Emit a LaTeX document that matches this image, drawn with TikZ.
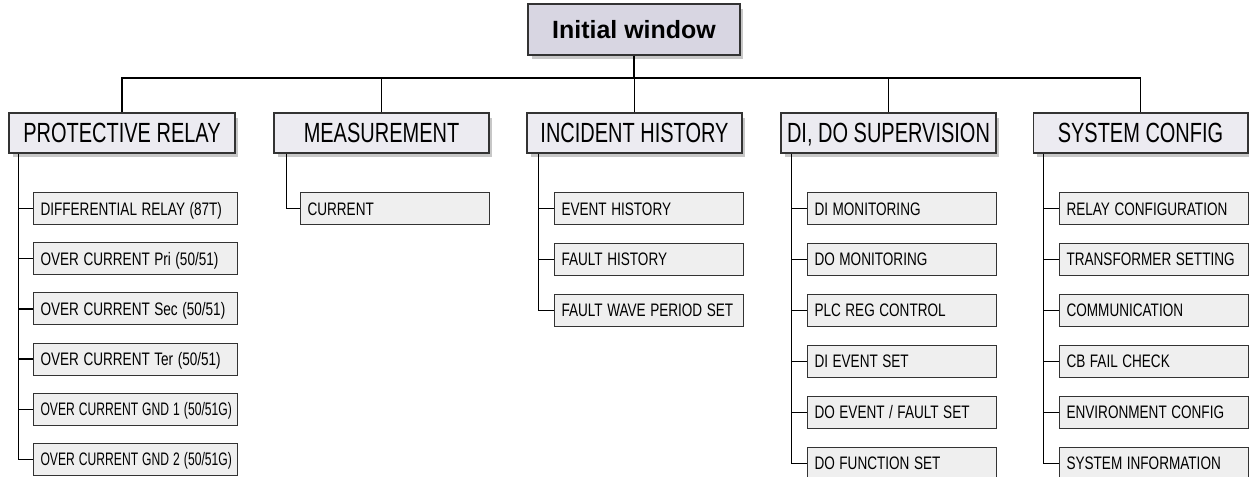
\documentclass[tikz,border=0pt]{standalone}
\usepackage{fontspec}
\setmainfont{Liberation Sans}
\usepackage{tikz}
\usetikzlibrary{shadows}
\usetikzlibrary{positioning}
\usetikzlibrary{calc}
\definecolor{titlefill}{HTML}{D8D6E2}
\definecolor{menufill}{HTML}{ECEBF1}
\definecolor{itemfill}{HTML}{EFEFEF}
\definecolor{boxedge}{HTML}{333333}
% condensed labels
\newcommand{\menutext}[1]{\scalebox{0.72}[1]{#1}}
\newcommand{\itemtext}[1]{\scalebox{0.75}[1]{#1}}
\newcommand{\itemtight}[1]{\scalebox{0.67}[1]{#1}}
\tikzset{
  % Common styles for the menu tree
  line/.style={draw, line width=0.85pt},
  boxshadow/.style={drop shadow={shadow xshift=0.07cm, shadow yshift=-0.09cm, fill=black!22, opacity=1}}
}

\begin{document}
\begin{tikzpicture}[x=0.02cm, y=-0.02cm, node distance=1.02cm]
    % Define styles
    \tikzstyle{top} = [rectangle, draw=boxedge, line width=0.6pt, fill=titlefill, boxshadow, minimum width=4.24cm, minimum height=1.02cm, text height=10.2pt, text depth=0pt, font=\bfseries\fontsize{14.2}{17}\selectfont]
    \tikzstyle{menu} = [rectangle, draw=boxedge, line width=0.6pt, fill=menufill, boxshadow, minimum width=4.3cm, minimum height=0.8cm, inner xsep=0pt, text height=11.3pt, text depth=0pt, font=\fontsize{15.8}{18}\selectfont]
    \tikzset{item/.style={rectangle, draw=boxedge, line width=0.6pt, fill=itemfill, minimum height=0.64cm, text width=#1, align=left, inner xsep=0.14cm, inner ysep=0pt, text height=7.4pt, text depth=0pt, font=\fontsize{10.3}{12}\selectfont}, item/.default=3.5cm}

    \useasboundingbox (0,0) rectangle (1249,477);

    % Top of the tree
    \node [top] (title) at (634,29.5) {Initial window};
    \coordinate (bus) at (634,78);

    % Main menus
    \node [menu, minimum width=4.52cm] (relay) at (122,133) {\menutext{PROTECTIVE RELAY}};
    \node [menu] (meas) at (381.5,133) {\menutext{MEASUREMENT}};
    \node [menu] (hist) at (634.5,133) {\menutext{INCIDENT HISTORY}};
    \node [menu] (dido) at (888.5,133) {\menutext{DI, DO SUPERVISION}};
    \node [menu] (sys) at (1140.5,133) {\menutext{SYSTEM CONFIG}};

    % Protective relay items
    \node [item=3.8cm, anchor=west] (relay1) at (33,208.5) {\itemtext{DIFFERENTIAL RELAY (87T)}};
    \node [item=3.8cm, below of=relay1, node distance=1.004cm] (relay2) {\itemtext{OVER CURRENT Pri (50/51)}};
    \node [item=3.8cm, below of=relay2, node distance=1.004cm] (relay3) {\itemtext{OVER CURRENT Sec (50/51)}};
    \node [item=3.8cm, below of=relay3, node distance=1.004cm] (relay4) {\itemtext{OVER CURRENT Ter (50/51)}};
    \node [item=3.8cm, below of=relay4, node distance=1.004cm] (relay5) {\itemtight{OVER CURRENT GND 1 (50/51G)}};
    \node [item=3.8cm, below of=relay5, node distance=1.004cm] (relay6) {\itemtight{OVER CURRENT GND 2 (50/51G)}};

    % Measurement items
    \node [item, anchor=west] (meas1) at (300,208.5) {\itemtext{CURRENT}};

    % Incident history items
    \node [item, anchor=west] (hist1) at (554,208.5) {\itemtext{EVENT HISTORY}};
    \node [item, below of=hist1] (hist2) {\itemtext{FAULT HISTORY}};
    \node [item, below of=hist2] (hist3) {\itemtext{FAULT WAVE PERIOD SET}};

    % DI, DO supervision items
    \node [item, anchor=west] (dido1) at (807,208.5) {\itemtext{DI MONITORING}};
    \node [item, below of=dido1] (dido2) {\itemtext{DO MONITORING}};
    \node [item, below of=dido2] (dido3) {\itemtext{PLC REG CONTROL}};
    \node [item, below of=dido3] (dido4) {\itemtext{DI EVENT SET}};
    \node [item, below of=dido4] (dido5) {\itemtext{DO EVENT / FAULT SET}};
    \node [item, below of=dido5] (dido6) {\itemtext{DO FUNCTION SET}};

    % System config items
    \node [item, anchor=west] (sys1) at (1059,208.5) {\itemtext{RELAY CONFIGURATION}};
    \node [item, below of=sys1] (sys2) {\itemtext{TRANSFORMER SETTING}};
    \node [item, below of=sys2] (sys3) {\itemtext{COMMUNICATION}};
    \node [item, below of=sys3] (sys4) {\itemtext{CB FAIL CHECK}};
    \node [item, below of=sys4] (sys5) {\itemtext{ENVIRONMENT CONFIG}};
    \node [item, below of=sys5] (sys6) {\itemtext{SYSTEM INFORMATION}};

    % Draw edges
    \path [line] (title) -- (bus);
    \path [line] (relay.north) |- (bus) -| (sys.north);
    \path [line] (meas.north) -- (meas.north |- bus);
    \path [line] (hist.north) -- (hist.north |- bus);
    \path [line] (dido.north) -- (dido.north |- bus);

    \coordinate (relay-trunk) at ($(relay.south west)+(10,0)$);
    \coordinate (meas-trunk) at ($(meas.south west)+(13,0)$);
    \coordinate (hist-trunk) at ($(hist.south west)+(12,0)$);
    \coordinate (dido-trunk) at ($(dido.south west)+(11,0)$);
    \coordinate (sys-trunk) at ($(sys.south west)+(11,0)$);

    \path [line] (relay-trunk) |- (relay6.west);
    \path [line] (relay1.west) -- (relay1.west -| relay-trunk);
    \path [line] (relay2.west) -- (relay2.west -| relay-trunk);
    \path [line] (relay3.west) -- (relay3.west -| relay-trunk);
    \path [line] (relay4.west) -- (relay4.west -| relay-trunk);
    \path [line] (relay5.west) -- (relay5.west -| relay-trunk);

    \path [line] (meas-trunk) |- (meas1.west);

    \path [line] (hist-trunk) |- (hist3.west);
    \path [line] (hist1.west) -- (hist1.west -| hist-trunk);
    \path [line] (hist2.west) -- (hist2.west -| hist-trunk);

    \path [line] (dido-trunk) |- (dido6.west);
    \path [line] (dido1.west) -- (dido1.west -| dido-trunk);
    \path [line] (dido2.west) -- (dido2.west -| dido-trunk);
    \path [line] (dido3.west) -- (dido3.west -| dido-trunk);
    \path [line] (dido4.west) -- (dido4.west -| dido-trunk);
    \path [line] (dido5.west) -- (dido5.west -| dido-trunk);

    \path [line] (sys-trunk) |- (sys6.west);
    \path [line] (sys1.west) -- (sys1.west -| sys-trunk);
    \path [line] (sys2.west) -- (sys2.west -| sys-trunk);
    \path [line] (sys3.west) -- (sys3.west -| sys-trunk);
    \path [line] (sys4.west) -- (sys4.west -| sys-trunk);
    \path [line] (sys5.west) -- (sys5.west -| sys-trunk);

\end{tikzpicture}
\end{document}
